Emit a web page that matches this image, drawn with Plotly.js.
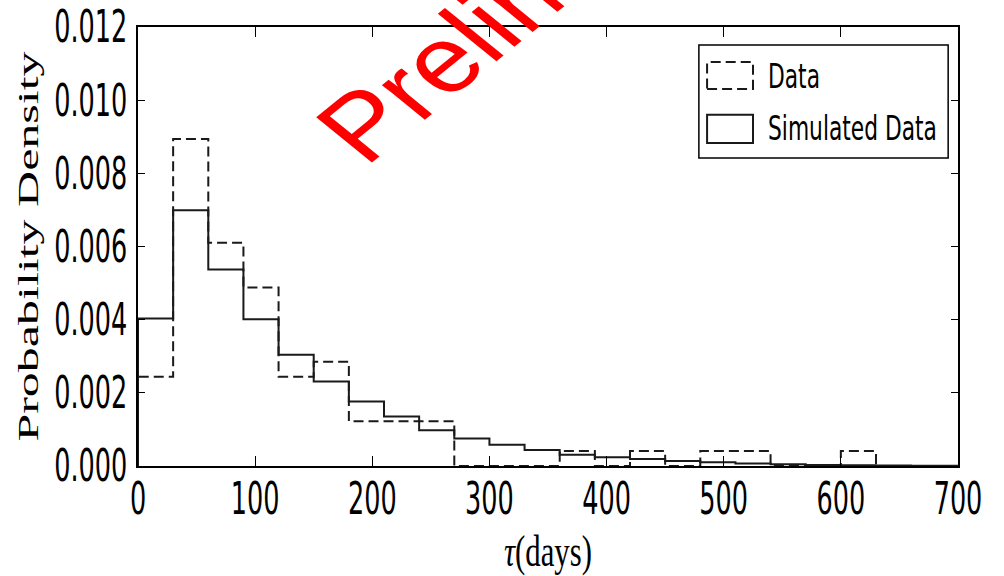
<!DOCTYPE html>
<html>
<head>
<meta charset="utf-8">
<script src="https://cdn.plot.ly/plotly-3.0.1.min.js"></script>
<style>html,body{margin:0;padding:0;background:#fff;}#chart{width:1004px;height:576px;}</style>
</head>
<body>
<div id="chart"></div>
<script>
// Bin edges (days)
const dataEdges = [0,30,60,90,120,150,180,210,240,270,300,330,360,390,420,450,480,510,540,570,600,630];
const simEdges  = [0,30,60,90,120,150,180,210,240,270,300,330,360,390,420,450,480,510,540,570,600,630,660,690,720];
// Probability densities
const dataDensity = [0.00244,0.00894,0.00610,0.00488,0.00244,0.00285,0.00122,0.00122,0.00122,0,0,0,0.00041,0,0.00041,0,0.00041,0.00041,0,0,0.00041];
const simDensity  = [0.00403,0.00699,0.00537,0.00401,0.00304,0.00231,0.00176,0.00135,0.00098,0.00075,0.00058,0.00044,0.00031,0.00024,0.00019,0.00014,0.00010,0.00007,0.00005,0.00003,0.00002,0.000015,0.00001,0.00001];
const seriesNames = ["Data","Simulated Data"];
const xTicks = [0,100,200,300,400,500,600,700];
const yTicks = [0,0.002,0.004,0.006,0.008,0.010,0.012];

function stepOutline(edges, vals){
  const x=[edges[0]], y=[0];
  for(let i=0;i<vals.length;i++){ x.push(edges[i]); y.push(vals[i]); }
  x.push(edges[vals.length]); y.push(vals[vals.length-1]);
  x.push(edges[vals.length]); y.push(0);
  return {x,y};
}
const so = stepOutline(simEdges, simDensity);
const dd = stepOutline(dataEdges, dataDensity);
const ink = '#1a1a1a';

const traces = [
  {type:'scatter', mode:'lines', name:seriesNames[1], x:so.x, y:so.y,
   line:{shape:'hv', color:ink, width:2}, showlegend:false, hoverinfo:'skip'},
  {type:'scatter', mode:'lines', name:seriesNames[0], x:dd.x, y:dd.y,
   line:{shape:'hv', color:ink, width:2, dash:'10px,5px'}, showlegend:false, hoverinfo:'skip'}
];

const tickFont = {family:'DejaVu Sans, Arial, sans-serif', size:44, color:'#000'};
const layout = {
  width:1004, height:576,
  margin:{l:138, r:46, t:27, b:110, pad:0},
  paper_bgcolor:'#fff', plot_bgcolor:'#fff',
  showlegend:false,
  xaxis:{range:[0,700], tickvals:xTicks, ticktext:xTicks.map(String), ticks:'inside', ticklen:10, tickwidth:1, tickcolor:'#000',
    showline:true, linecolor:'#000', linewidth:2, mirror:'ticks', showgrid:false, zeroline:false,
    tickfont:tickFont, automargin:false,
    title:{text:'<i>τ</i>(days)', font:{family:'Liberation Serif, DejaVu Serif, serif', size:44, color:'#000'}, standoff:4}},
  yaxis:{range:[0,0.012], tickvals:yTicks, ticktext:yTicks.map(v=>v.toFixed(3)), ticks:'inside', ticklen:7, tickwidth:1, tickcolor:'#000',
    showline:true, linecolor:'#000', linewidth:2, mirror:'ticks', showgrid:false, zeroline:false,
    tickfont:tickFont, automargin:false,
    title:{text:'Probability Density', font:{family:'Liberation Serif, DejaVu Serif, serif', size:50, color:'#000'}, standoff:4}},
  shapes:[
    {type:'rect', xref:'paper', yref:'paper', x0:0.684, x1:0.988, y0:0.7016, y1:0.959, line:{color:'#000', width:1.5}, fillcolor:'#fff', layer:'above'},
    {type:'rect', xref:'paper', yref:'paper', x0:0.694, x1:0.750, y0:0.859, y1:0.920, line:{color:ink, width:2, dash:'10px,5px'}, fillcolor:'rgba(0,0,0,0)', layer:'above'},
    {type:'rect', xref:'paper', yref:'paper', x0:0.694, x1:0.750, y0:0.736, y1:0.800, line:{color:ink, width:2}, fillcolor:'rgba(0,0,0,0)', layer:'above'}
  ],
  annotations:[
    {xref:'paper', yref:'paper', x:0.766, y:0.888, xanchor:'left', yanchor:'middle', text:seriesNames[0], showarrow:false,
     font:{family:'DejaVu Sans, Arial, sans-serif', size:33, color:'#000'}},
    {xref:'paper', yref:'paper', x:0.766, y:0.768, xanchor:'left', yanchor:'middle', text:seriesNames[1], showarrow:false,
     font:{family:'DejaVu Sans, Arial, sans-serif', size:33, color:'#000'}},
    {xref:'paper', yref:'paper', x:0.4899, y:1.1052, xanchor:'center', yanchor:'middle', text:'Preliminary', showarrow:false, textangle:-45,
     font:{family:'Liberation Sans, Arial, sans-serif', size:93, color:'#ff0000'}}
  ]
};

function squeeze(el, sx, mode, axis, dy){
  const bb = el.getBBox();
  const ax = mode==='left' ? bb.x : (mode==='right' ? bb.x+bb.width : bb.x+bb.width/2);
  const ay = bb.y + bb.height/2;
  const t = el.getAttribute('transform') || '';
  const sc = axis==='y' ? 'scale(1,'+sx+')' : 'scale('+sx+',1)';
  const sh = dy ? ' translate(0,'+dy+')' : '';
  el.setAttribute('transform', t+sh+' translate('+ax+','+ay+') '+sc+' translate('+(-ax)+','+(-ay)+')');
}

Plotly.newPlot('chart', traces, layout, {displayModeBar:false, staticPlot:true, responsive:false}).then(function(gd){
  gd.querySelectorAll('.xtick text').forEach(el=>squeeze(el,0.58,'center','x',-7));
  gd.querySelectorAll('.ytick text').forEach(el=>squeeze(el,0.58,'right','x',0));
  gd.querySelectorAll('.g-xtitle text').forEach(el=>squeeze(el,0.7,'center','x',0));
  gd.querySelectorAll('.g-ytitle text').forEach(el=>squeeze(el,0.6,'center','y',0));
  gd.querySelectorAll('.annotation').forEach(function(a){
    const idx = a.getAttribute('data-index');
    if(idx==='0' || idx==='1'){
      const t = a.querySelector('text');
      if(t) squeeze(t,0.66,'left','x',0);
    } else if(idx==='2'){
      // watermark: rotated 45 deg then stretched horizontally as in the picture
      const svgRect = gd.querySelector('.main-svg').getBoundingClientRect();
      const r = a.getBoundingClientRect();
      const cx = r.left - svgRect.left + r.width/2, cy = r.top - svgRect.top + r.height/2;
      const t = a.getAttribute('transform') || '';
      a.setAttribute('transform', 'translate('+cx+','+cy+') scale(1.23,1) translate('+(-cx)+','+(-cy)+') '+t);
    }
  });
});
</script>
</body>
</html>
